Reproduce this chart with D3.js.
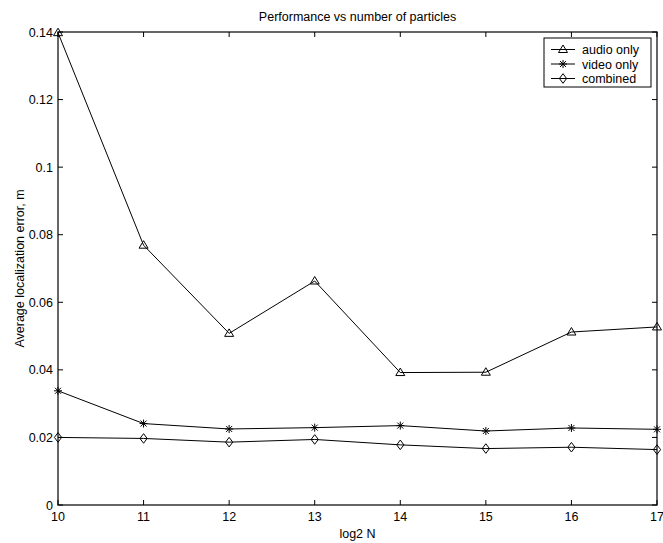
<!DOCTYPE html>
<html>
<head>
<meta charset="utf-8">
<script src="https://cdn.jsdelivr.net/npm/d3@7"></script>
<style>
  body { margin: 0; background: #fff; }
  text { font-family: "Liberation Sans", Arial, sans-serif; font-size: 12.5px; fill: #000; }
</style>
</head>
<body>
<svg id="chart" width="663" height="543"></svg>
<script>
// data
var logN = [10, 11, 12, 13, 14, 15, 16, 17];
var audioOnly = [0.1398, 0.0769, 0.0508, 0.0663, 0.0392, 0.0393, 0.0512, 0.0527];
var videoOnly = [0.0338, 0.0241, 0.0225, 0.0229, 0.0235, 0.0219, 0.0228, 0.0224];
var combined = [0.0200, 0.0197, 0.0186, 0.0194, 0.0178, 0.0167, 0.0171, 0.0164];
var yTicks = [0, 0.02, 0.04, 0.06, 0.08, 0.1, 0.12, 0.14];
var seriesNames = ["audio only", "video only", "combined"];
var seriesMarkers = ["triangle", "star", "diamond"];

// (window.top is read-only, so no plain "top" here)
var plotLeft = 58, plotRight = 657, plotTop = 32, plotBottom = 505;

var x = d3.scaleLinear().domain([10, 17]).range([plotLeft, plotRight]);
var y = d3.scaleLinear().domain([0, 0.14]).range([plotBottom, plotTop]);

var svg = d3.select("#chart");

// markers, drawn as paths around (0,0)
function markerPath(type) {
  if (type == "triangle") return "M0,-4.5L4.5,3L-4.5,3Z";
  if (type == "diamond") return "M0,-4.8L3.6,0L0,4.8L-3.6,0Z";
  // asterisk
  return "M-4,0H4M0,-4V4M-3,-3L3,3M-3,3L3,-3";
}

function drawMarker(g, type) {
  g.append("path")
    .attr("d", markerPath(type))
    .attr("fill", "none")
    .attr("stroke", "#000")
    .attr("stroke-width", 1);
}

// ticks: inward on all four sides
var tickLen = 5;
var xAxisG = svg.append("g");
logN.forEach(function (v) {
  xAxisG.append("line").attr("x1", x(v)).attr("x2", x(v))
    .attr("y1", plotBottom).attr("y2", plotBottom - tickLen).attr("stroke", "#000");
  xAxisG.append("line").attr("x1", x(v)).attr("x2", x(v))
    .attr("y1", plotTop).attr("y2", plotTop + tickLen).attr("stroke", "#000");
  xAxisG.append("text").attr("x", x(v)).attr("y", plotBottom + 16)
    .attr("text-anchor", "middle").text(v);
});

var yAxisG = svg.append("g");
var fmt = function (v) { return v == 0 ? "0" : String(+v.toFixed(2)); };
yTicks.forEach(function (v) {
  yAxisG.append("line").attr("x1", plotLeft).attr("x2", plotLeft + tickLen)
    .attr("y1", y(v)).attr("y2", y(v)).attr("stroke", "#000");
  yAxisG.append("line").attr("x1", plotRight).attr("x2", plotRight - tickLen)
    .attr("y1", y(v)).attr("y2", y(v)).attr("stroke", "#000");
  yAxisG.append("text").attr("x", plotLeft - 5).attr("y", y(v) + 4.5)
    .attr("text-anchor", "end").text(fmt(v));
});

// box
svg.append("rect")
  .attr("x", plotLeft).attr("y", plotTop)
  .attr("width", plotRight - plotLeft).attr("height", plotBottom - plotTop)
  .attr("fill", "none").attr("stroke", "#000").attr("stroke-width", 1.2);

// series
var line = d3.line()
  .x(function (d) { return x(d[0]); })
  .y(function (d) { return y(d[1]); });

[audioOnly, videoOnly, combined].forEach(function (vals, i) {
  var pts = logN.map(function (n, j) { return [n, vals[j]]; });
  svg.append("path").attr("d", line(pts))
    .attr("fill", "none").attr("stroke", "#000").attr("stroke-width", 1);
  svg.append("g").selectAll("g")
    .data(pts)
    .join("g")
    .attr("transform", function (d) { return "translate(" + x(d[0]) + "," + y(d[1]) + ")"; })
    .each(function () { drawMarker(d3.select(this), seriesMarkers[i]); });
});

// title and axis labels
svg.append("text").attr("x", (plotLeft + plotRight) / 2).attr("y", 21)
  .attr("text-anchor", "middle").text("Performance vs number of particles");
svg.append("text").attr("x", (plotLeft + plotRight) / 2).attr("y", 538)
  .attr("text-anchor", "middle").text("log2 N");
svg.append("text")
  .attr("transform", "translate(24," + (plotTop + plotBottom) / 2 + ") rotate(-90)")
  .attr("text-anchor", "middle").text("Average localization error, m");

// legend
var lg = svg.append("g");
lg.append("rect").attr("x", 544).attr("y", 38).attr("width", 107).attr("height", 49)
  .attr("fill", "#fff").attr("stroke", "#000").attr("stroke-width", 1);
seriesNames.forEach(function (name, i) {
  var ly = 49.5 + i * 14.5;
  lg.append("line").attr("x1", 551).attr("x2", 575).attr("y1", ly).attr("y2", ly)
    .attr("stroke", "#000");
  var m = lg.append("g").attr("transform", "translate(563," + ly + ")");
  drawMarker(m, seriesMarkers[i]);
  lg.append("text").attr("x", 582).attr("y", ly + 4.5).text(name);
});
</script>
</body>
</html>
